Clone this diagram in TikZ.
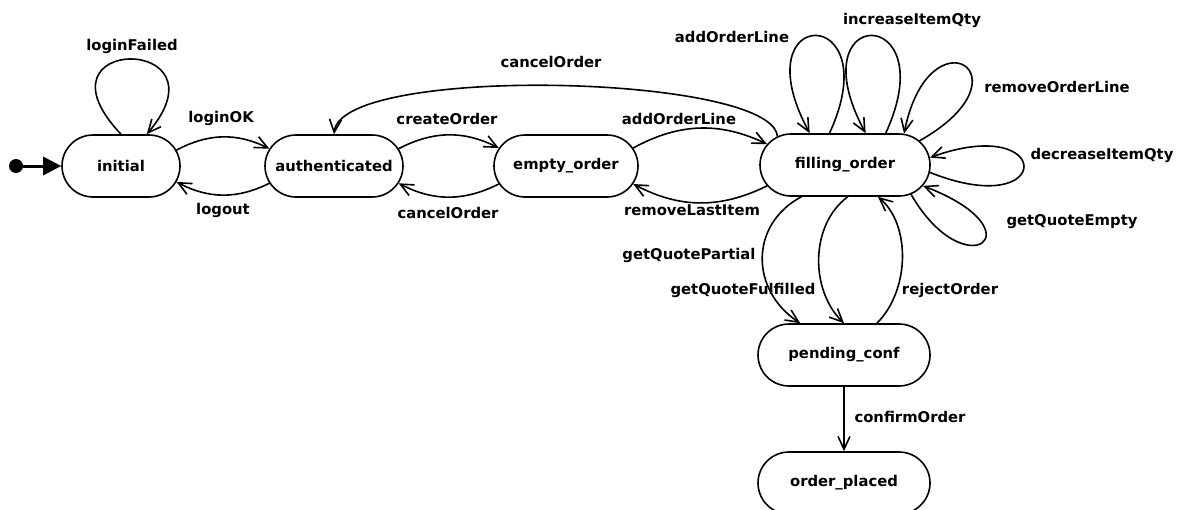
\documentclass[tikz,border=0pt]{standalone}
\usepackage{fontspec}
\setmainfont{DejaVu Sans}
\usetikzlibrary{arrows.meta,shapes.misc}

\begin{document}
\begin{tikzpicture}[line cap=round,line join=round,>={Straight Barb[length=13pt,width=12pt]},x=1pt,y=1pt,
  state/.style={draw,rounded rectangle,line width=1.6pt,minimum height=62pt,inner sep=0pt,font=\fontsize{14.8}{18}\selectfont\bfseries},
  lbl/.style={inner sep=0pt,font=\fontsize{14.8}{18}\selectfont\bfseries},
  trans/.style={->,line width=1.6pt},
  initdot/.style={circle,fill,inner sep=0pt,minimum size=14pt}]
\useasboundingbox (0,0) rectangle (1182,-509);
\node[initdot] (start) at (16,-166) {};
\node[state,minimum width=118pt] (initial) at (121,-166) {initial};
\node[state,minimum width=138pt] (authenticated) at (334,-166) {authenticated};
\node[state,minimum width=144pt] (empty) at (566,-166) {empty\_order};
\node[state,minimum width=170pt] (filling) at (845,-165) {filling\_order};
\node[state,minimum width=172pt] (pending) at (844,-355) {pending\_conf};
\node[state,minimum width=172pt] (placed) at (844,-483) {order\_placed};
\draw [line width=3pt,-{Triangle[length=18pt,width=18pt]}] (start) -- (initial);
\draw [trans] (initial.90) .. controls +(-95,100) and +(85,100) .. (initial.51);
\draw [trans] (initial.16) to[bend left=27] (authenticated.165);
\draw [trans] (authenticated.195) to[bend left=27] (initial.-16);
\draw [trans] (authenticated.15) to[bend left=27] (empty.165);
\draw [trans] (empty.195) to[bend left=27] (authenticated.-15);
\draw [trans] (empty.15) to[bend left=27] (filling.165);
\draw [trans] (filling.195) to[bend left=27] (empty.-15);
\draw [trans] (filling.157) .. controls +(-5,62) and +(7,70) .. (authenticated.north);
\draw [trans] (filling.116) .. controls +(60,130) and +(-70,130) .. (filling.138);
\draw [trans] (filling.38) .. controls +(60,130) and +(-70,130) .. (filling.57);
\draw [trans] (filling.18) .. controls +(115,65) and +(25,125) .. (filling.28);
\draw [trans] (filling.-5) .. controls +(125,-50) and +(125,45) .. (filling.5);
\draw [trans] (filling.-24) .. controls +(55,-95) and +(118,-45) .. (filling.-15);
\draw [trans] (filling.-144) .. controls +(-52,-28) and +(-50,33) .. (pending.144);
\draw [trans] (filling.-85) .. controls +(-38,-28) and +(-34,33) .. (pending.north);
\draw [trans] (pending.44) .. controls +(33,33) and +(33,-28) .. (filling.-44);
\draw [trans] (pending) -- (placed);
\node[lbl] (t-failed) at (132,-46) {loginFailed};
\node[lbl] (t-loginok) at (221,-118) {loginOK};
\node[lbl] (t-logout) at (223,-210) {logout};
\node[lbl] (t-create) at (447,-119) {createOrder};
\node[lbl] (t-cancel) at (448,-213) {cancelOrder};
\node[lbl] (t-addline) at (679,-119) {addOrderLine};
\node[lbl] (t-removelast) at (692,-210) {removeLastItem};
\node[lbl] (t-cancelfill) at (551,-62) {cancelOrder};
\node[lbl] (t-addloop) at (732,-37) {addOrderLine};
\node[lbl] (t-increase) at (912,-20) {increaseItemQty};
\node[lbl] (t-removeline) at (1057,-87) {removeOrderLine};
\node[lbl] (t-decrease) at (1102,-155) {decreaseItemQty};
\node[lbl] (t-empty) at (1072,-222) {getQuoteEmpty};
\node[lbl] (t-partial) at (689,-255) {getQuotePartial};
\node[lbl] (t-fulfilled) at (743,-290) {getQuoteFulfilled};
\node[lbl] (t-reject) at (950,-290) {rejectOrder};
\node[lbl] (t-confirm) at (910,-417) {confirmOrder};
\end{tikzpicture}
\end{document}
